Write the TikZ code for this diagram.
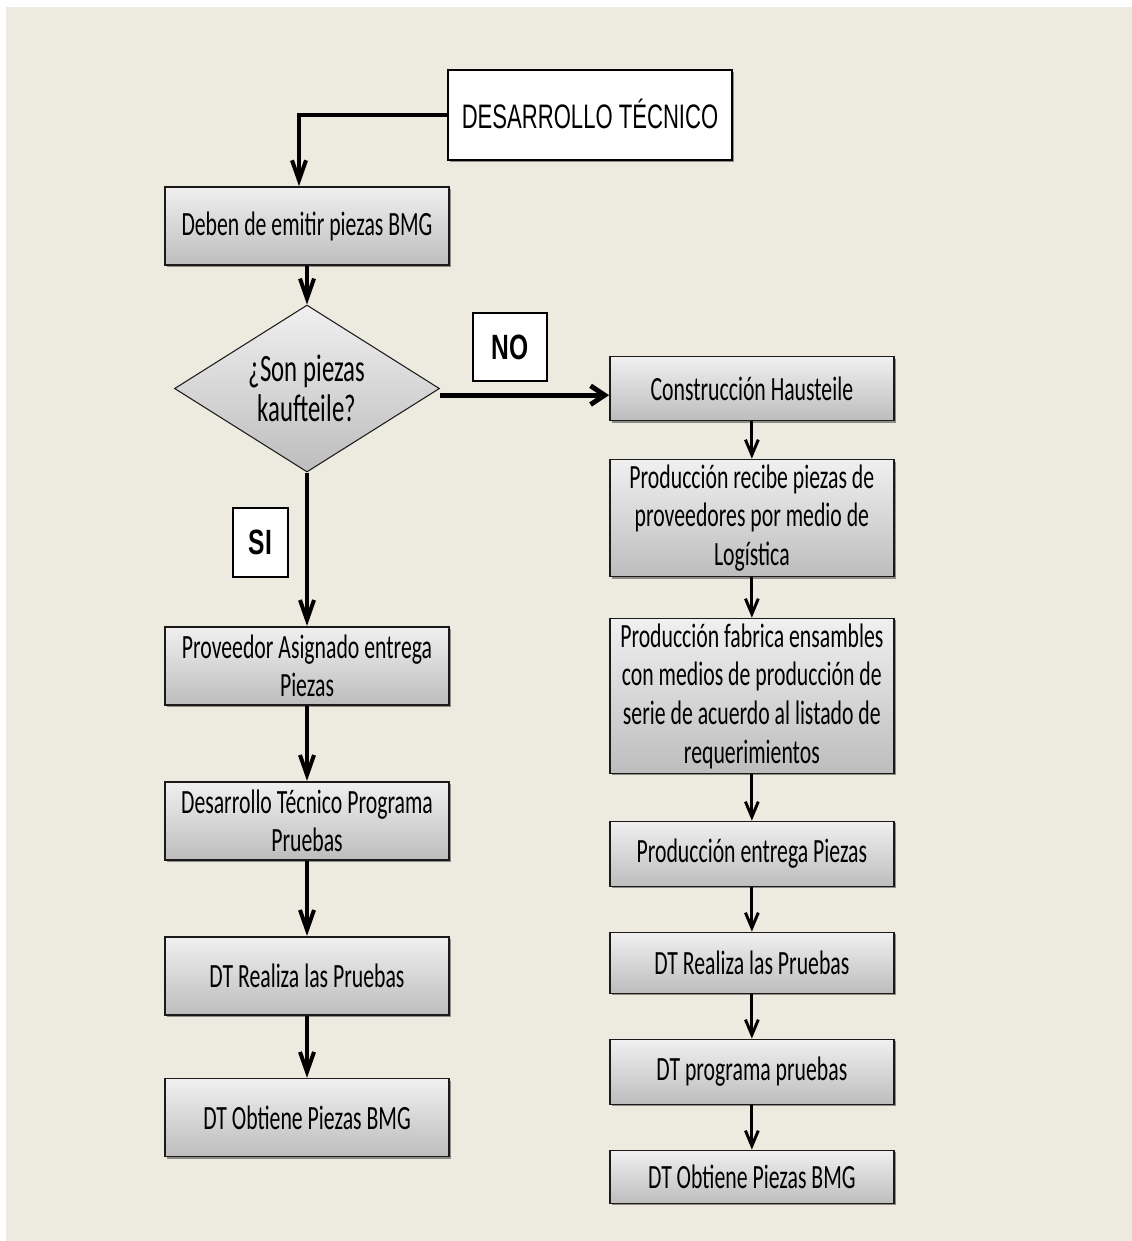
\documentclass[tikz,border=0pt]{standalone}
\usepackage{fontspec}
\setmainfont{Carlito}
\newfontfamily\boxfont{Carlito}[FakeStretch=0.64]
\newfontfamily\headfont{Liberation Sans}[FakeStretch=0.65]
\newfontfamily\tagfont{Liberation Sans}[FakeStretch=0.7]
\usetikzlibrary{positioning,arrows.meta,shapes.geometric,shadows}
\definecolor{paper}{HTML}{EDEBE0}
\definecolor{ink}{HTML}{1A1A1A}
\definecolor{boxtop}{HTML}{F0F0F0}
\definecolor{boxbot}{HTML}{BDBDBD}
\definecolor{shade}{HTML}{8E8C86}

\begin{document}
\begin{tikzpicture}[
  x=0.03cm, y=-0.03cm,
  font=\boxfont\fontsize{29}{33}\selectfont,
  stepbox/.style={draw=ink, line width=1.4pt, top color=boxtop, bottom color=boxbot,
                  minimum width=8.52cm, align=center, inner sep=2pt,
                  general shadow={fill=shade, shadow xshift=0.06cm, shadow yshift=-0.06cm}},
  decision/.style={diamond, aspect=1.6, draw=ink, line width=0.9pt, top color=boxtop,
                   bottom color=boxbot, minimum width=7.95cm, minimum height=5.01cm,
                   inner sep=0pt, align=center,
                   font=\boxfont\fontsize{33}{34}\selectfont},
  headbox/.style={draw=black, line width=2.5pt, fill=white, minimum width=8.52cm,
                  minimum height=2.7cm, font=\headfont\fontsize{29}{30}\selectfont,
                  general shadow={fill=shade, shadow xshift=0.05cm, shadow yshift=-0.05cm}},
  tag/.style={draw=black, line width=2.5pt, fill=white, inner sep=0pt,
              font=\tagfont\bfseries\fontsize{30}{30}\selectfont},
  flow/.style={-{Straight Barb[length=17pt,width=12pt]}, line width=3.4pt, draw=black},
  short/.style={-{Straight Barb[length=13pt,width=11pt]}, line width=2.5pt, draw=black},
  wide/.style={-{Straight Barb[length=12pt,width=16pt]}, line width=4.2pt, draw=black},
]

% ---- Page -------------------------------------------------------------------
\useasboundingbox (0,0) rectangle (1132,1241);
\fill[white] (0,0) rectangle (1132,1241);
\fill[paper] (6,7) rectangle (1132,1241);

% ---- Start ------------------------------------------------------------------
\node[headbox] (title) at (590,115) {\raisebox{1.5pt}{DESARROLLO TÉCNICO}};
\node[stepbox, minimum height=2.34cm] (deben) at (307,226) {Deben de emitir piezas BMG};
\node[decision, below=1.16cm of deben] (kauf) {¿Son piezas\\ kaufteile?};

% ---- Branch SI --------------------------------------------------------------
\node[stepbox, minimum height=2.34cm, below=4.6cm of kauf] (prov)
  {Proveedor Asignado entrega\\ Piezas};
\node[stepbox, minimum height=2.34cm, below=2.26cm of prov] (dtprog)
  {Desarrollo Técnico Programa\\ Pruebas};
\node[stepbox, minimum height=2.34cm, below=2.26cm of dtprog] (dtreal)
  {DT Realiza las Pruebas};
\node[stepbox, minimum height=2.34cm, below=1.87cm of dtreal] (dtobt)
  {DT Obtiene Piezas BMG};

% ---- Branch NO --------------------------------------------------------------
\node[stepbox, minimum height=1.92cm, right=5.07cm of kauf] (haus)
  {Construcción Hausteile};
\node[stepbox, minimum height=3.51cm, below=1.12cm of haus] (recibe)
  {Producción recibe piezas de\\ proveedores por medio de\\ Logística};
\node[stepbox, minimum height=4.65cm, below=1.21cm of recibe] (fabrica)
  {Producción fabrica ensambles\\ con medios de producción de\\ serie de acuerdo al listado de\\ requerimientos};
\node[stepbox, minimum height=1.95cm, below=1.39cm of fabrica] (entrega)
  {Producción entrega Piezas};
\node[stepbox, minimum height=1.83cm, below=1.33cm of entrega] (dtrealR)
  {DT Realiza las Pruebas};
\node[stepbox, minimum height=1.95cm, below=1.33cm of dtrealR] (dtprogR)
  {DT programa pruebas};
\node[stepbox, minimum height=1.59cm, below=1.33cm of dtprogR] (dtobtR)
  {DT Obtiene Piezas BMG};

% ---- Tags -------------------------------------------------------------------
\node[tag, minimum width=2.22cm, minimum height=2.04cm] (notag) at (510,347) {NO};
\node[tag, minimum width=1.65cm, minimum height=2.07cm] (sitag) at (260.5,542.5) {SI};

% ---- Arrows -----------------------------------------------------------------
\draw[flow] (title.west) -| ([xshift=-0.24cm]deben.north);
\draw[flow] (deben) -- (kauf);
\draw[wide] ([yshift=-0.2cm]kauf.east) -- ([yshift=-0.2cm]haus.west);
\draw[flow] (kauf) -- (prov);
\draw[flow] (prov) -- (dtprog);
\draw[flow] (dtprog) -- (dtreal);
\draw[flow] (dtreal) -- (dtobt);
\draw[short] (haus) -- (recibe);
\draw[short] (recibe) -- (fabrica);
\draw[short] (fabrica) -- (entrega);
\draw[short] (entrega) -- (dtrealR);
\draw[short] (dtrealR) -- (dtprogR);
\draw[short] (dtprogR) -- (dtobtR);

\end{tikzpicture}
\end{document}
